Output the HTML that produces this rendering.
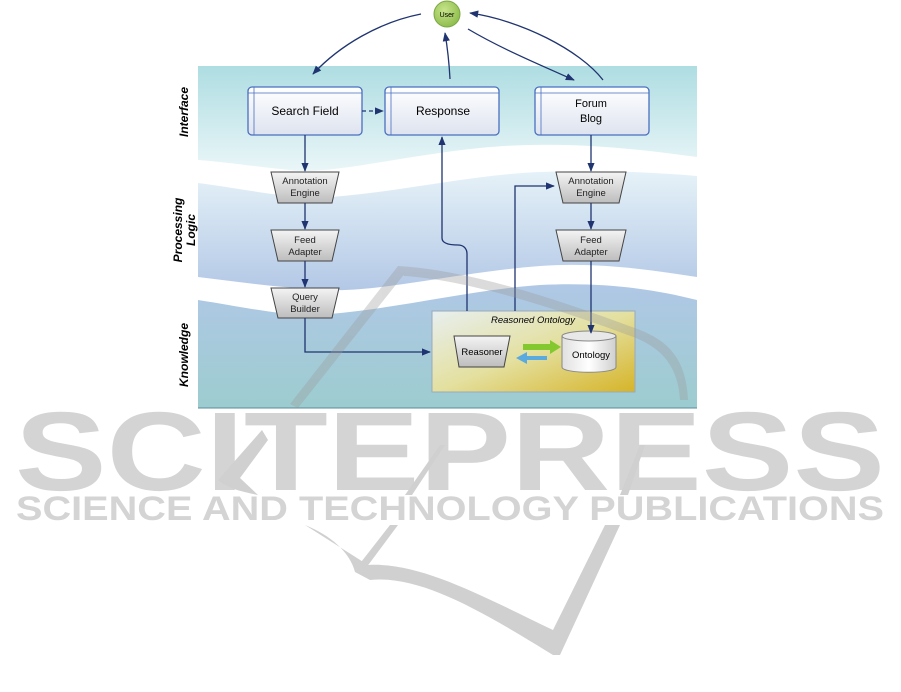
<!DOCTYPE html>
<html><head><meta charset="utf-8"><style>
html,body{margin:0;padding:0;background:#fff;width:901px;height:692px;overflow:hidden}
svg{display:block}
text{font-family:"Liberation Sans",sans-serif}
</style></head><body>
<svg width="901" height="692" viewBox="0 0 901 692" xmlns="http://www.w3.org/2000/svg">
<defs>
<linearGradient id="gi" x1="0" y1="0" x2="0" y2="1"><stop offset="0" stop-color="#aedde2"/><stop offset="1" stop-color="#eaf6f8"/></linearGradient>
<linearGradient id="gp" x1="0" y1="0" x2="0" y2="1"><stop offset="0" stop-color="#e6f2f8"/><stop offset="1" stop-color="#b3c8e6"/></linearGradient>
<linearGradient id="gk" x1="0" y1="0" x2="0" y2="1"><stop offset="0" stop-color="#b0c8e6"/><stop offset="1" stop-color="#9ccccf"/></linearGradient>
<linearGradient id="gbox" x1="0" y1="0" x2="0" y2="1"><stop offset="0" stop-color="#fff"/><stop offset="1" stop-color="#dde3ef"/></linearGradient>
<linearGradient id="gtrap" x1="0" y1="0" x2="0" y2="1"><stop offset="0" stop-color="#f4f4f4"/><stop offset="1" stop-color="#bdbdbd"/></linearGradient>
<linearGradient id="gro" x1="0" y1="0" x2="1" y2="1"><stop offset="0" stop-color="#e8eff0"/><stop offset="0.5" stop-color="#e4e0a0"/><stop offset="1" stop-color="#d6b428"/></linearGradient>
<linearGradient id="gcyl" x1="0" y1="0" x2="1" y2="0"><stop offset="0" stop-color="#e0e0e0"/><stop offset="0.5" stop-color="#fff"/><stop offset="1" stop-color="#cfcfcf"/></linearGradient>
<radialGradient id="guser" cx="0.4" cy="0.35" r="0.7"><stop offset="0" stop-color="#c6e48a"/><stop offset="1" stop-color="#8cbb4a"/></radialGradient>
<marker id="ar" viewBox="0 0 10 10" refX="9" refY="5" markerWidth="7" markerHeight="7" orient="auto"><path d="M0,1 L10,5 L0,9 z" fill="#1f3470"/></marker>
</defs>

<!-- bands -->
<path d="M198,66 H697 V157 C630,148 560,140 480,148 C400,156 330,175 290,170 C250,166 225,162 198,160 Z" fill="url(#gi)"/>
<path d="M198,183 C240,188 290,200 330,197 C400,192 470,175 540,172 C600,170 650,172 697,176 V277 C650,270 600,262 540,266 C460,272 380,292 330,290 C280,288 240,282 198,277 Z" fill="url(#gp)"/>
<path d="M198,300 C250,308 290,318 330,314 C400,308 470,290 540,285 C600,282 650,288 697,300 V408 H198 Z" fill="url(#gk)"/>
<line x1="198" y1="408" x2="697" y2="408" stroke="#5a8a99" stroke-width="1"/>

<!-- side labels -->
<text transform="translate(188,112) rotate(-90)" text-anchor="middle" font-size="12" font-weight="bold" font-style="italic">Interface</text>
<text transform="translate(182,230) rotate(-90)" text-anchor="middle" font-size="12" font-weight="bold" font-style="italic">Processing</text>
<text transform="translate(195,230) rotate(-90)" text-anchor="middle" font-size="12" font-weight="bold" font-style="italic">Logic</text>
<text transform="translate(188,355) rotate(-90)" text-anchor="middle" font-size="12" font-weight="bold" font-style="italic">Knowledge</text>

<!-- user -->
<circle cx="447" cy="14" r="13" fill="url(#guser)" stroke="#7aa640"/>
<text x="447" y="17" text-anchor="middle" font-size="7">User</text>

<!-- top arrows -->
<g stroke="#1f3470" stroke-width="1.3" fill="none">
<path d="M421,14 C380,22 340,45 313,74" marker-end="url(#ar)"/>
<path d="M450,79 C449,60 447,45 445,33" marker-end="url(#ar)"/>
<path d="M468,29 C500,48 540,65 574,80" marker-end="url(#ar)"/>
<path d="M603,80 C580,50 520,20 470,13" marker-end="url(#ar)"/>
</g>

<!-- interface boxes -->
<g stroke="#4a6fc0" stroke-width="1.3">
<rect x="248" y="87" width="114" height="48" rx="4" fill="url(#gbox)"/>
<rect x="385" y="87" width="114" height="48" rx="4" fill="url(#gbox)"/>
<rect x="535" y="87" width="114" height="48" rx="4" fill="url(#gbox)"/>
<path d="M248,93 H362 M254,87 V135 M385,93 H499 M391,87 V135 M535,93 H649 M541,87 V135" fill="none" stroke-width="0.8"/>
</g>
<text x="305" y="115" text-anchor="middle" font-size="12">Search Field</text>
<text x="443" y="115" text-anchor="middle" font-size="12">Response</text>
<text x="591" y="107" text-anchor="middle" font-size="11">Forum</text>
<text x="591" y="122" text-anchor="middle" font-size="11">Blog</text>

<!-- trapezoids -->
<g stroke="#444" stroke-width="1" fill="url(#gtrap)">
<path d="M271,172 H339 L332,203 H278 Z"/>
<path d="M271,230 H339 L332,261 H278 Z"/>
<path d="M271,288 H339 L332,318 H278 Z"/>
<path d="M556,172 H626 L619,203 H563 Z"/>
<path d="M556,230 H626 L619,261 H563 Z"/>
</g>
<g font-size="9.5" text-anchor="middle" fill="#222">
<text x="305" y="184">Annotation</text><text x="305" y="196">Engine</text>
<text x="305" y="243">Feed</text><text x="305" y="255">Adapter</text>
<text x="305" y="300">Query</text><text x="305" y="312">Builder</text>
<text x="591" y="184">Annotation</text><text x="591" y="196">Engine</text>
<text x="591" y="243">Feed</text><text x="591" y="255">Adapter</text>
</g>

<!-- reasoned ontology -->
<rect x="432" y="311" width="203" height="81" fill="url(#gro)" stroke="#9ab" stroke-width="1"/>
<text x="533" y="323" text-anchor="middle" font-size="9.5" font-style="italic">Reasoned Ontology</text>
<path d="M454,336 H510 L504,367 H459 Z" fill="url(#gtrap)" stroke="#444"/>
<text x="482" y="355" text-anchor="middle" font-size="9.5">Reasoner</text>
<path d="M562,336 V367 C562,374 616,374 616,367 V336" fill="url(#gcyl)" stroke="#888"/>
<ellipse cx="589" cy="336" rx="27" ry="5" fill="#e8e8e8" stroke="#888"/>
<text x="591" y="358" text-anchor="middle" font-size="9.5">Ontology</text>
<path d="M523,344 H550 V340 L561,347 L550,354 V350 H523 Z" fill="#84c830"/>
<path d="M547,356 H527 V352 L516,358 L527,364 V360 H547 Z" fill="#5aaae0"/>

<!-- connectors -->
<g stroke="#1f3470" stroke-width="1.3" fill="none">
<path d="M362,111 H383" stroke-dasharray="4,3" marker-end="url(#ar)"/>
<path d="M305,135 V171" marker-end="url(#ar)"/>
<path d="M305,203 V229" marker-end="url(#ar)"/>
<path d="M305,261 V287" marker-end="url(#ar)"/>
<path d="M305,318 V352 H430" marker-end="url(#ar)"/>
<path d="M591,135 V171" marker-end="url(#ar)"/>
<path d="M591,203 V229" marker-end="url(#ar)"/>
<path d="M591,261 V333" marker-end="url(#ar)"/>
<path d="M467,311 V254 C467,248 463,245 458,245 C454,245 442,245 442,238 V137" marker-end="url(#ar)"/>
<path d="M515,311 V186 H554" marker-end="url(#ar)"/>
</g>

<!-- watermark (faint overlay) -->
<g fill="#9a9a9a" opacity="0.35">
<path d="M398,266 C470,270 560,300 640,330 C670,342 686,360 688,400 L680,400 C678,368 664,350 636,338 C560,310 470,280 404,276 Z"/>
<path d="M398,266 L406,272 L298,408 L290,404 Z"/>
</g>
<g fill="#d0d0d0">
<path d="M262,430 L218,480 C230,490 245,492 258,495 L240,478 L268,440 Z"/>
<path d="M305,525 C330,535 350,552 355,572 L370,580 C420,575 480,610 553,655 L560,655 L620,525 L605,525 L553,630 C480,595 420,562 368,565 Z"/>
<path d="M390,525 L398,525 L366,568 L358,566 Z"/>
<path d="M440,445 L445,445 L412,495 L405,495 Z"/>
<path d="M640,445 L645,445 L628,495 L620,495 Z"/>
</g>
<text x="450" y="490" text-anchor="middle" font-size="112" font-weight="bold" fill="#d0d0d0" textLength="870" lengthAdjust="spacingAndGlyphs" opacity="0.9">SCITEPRESS</text>
<text x="450" y="520" text-anchor="middle" font-size="34" font-weight="bold" fill="#d0d0d0" textLength="868" lengthAdjust="spacingAndGlyphs" opacity="0.9">SCIENCE AND TECHNOLOGY PUBLICATIONS</text>
</svg>
</body></html>
